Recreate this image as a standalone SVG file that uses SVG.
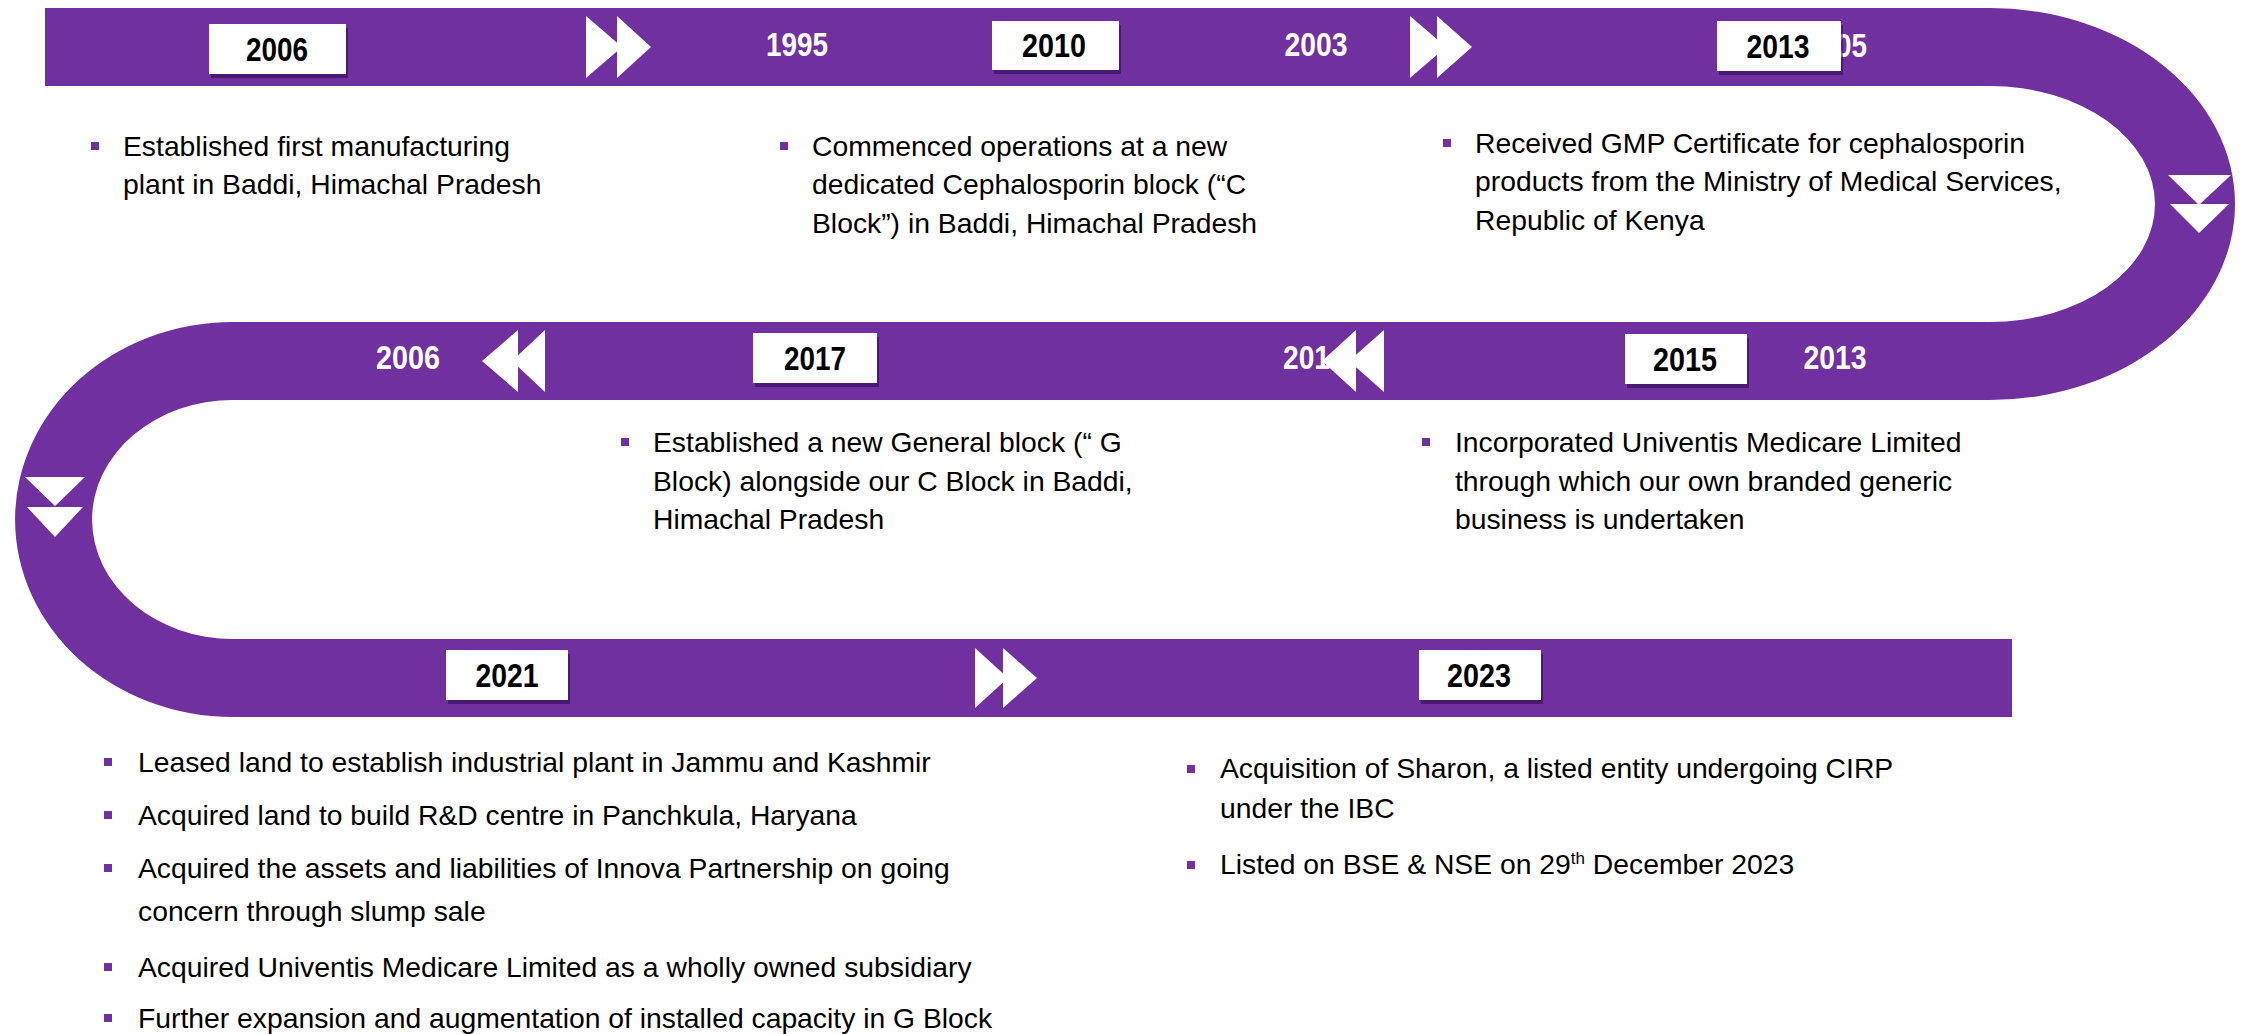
<svg xmlns="http://www.w3.org/2000/svg" width="2241" height="1034" viewBox="0 0 2241 1034">
<defs>
<style>
.band{fill:#7030A0}
.arr{fill:#ffffff}
.box{fill:#ffffff}
.shadow{fill:#2a0a4a;opacity:0.55}
.yr{font-family:"Liberation Sans Narrow","Liberation Sans",Arial,sans-serif;font-weight:bold;font-size:34px;text-anchor:middle}
.yb{fill:#000000}
.yw{fill:#ffffff}
.tx{font-family:"Liberation Sans",Arial,sans-serif;font-size:28.3px;fill:#000000}
.bul{fill:#7030A0}
</style>
</defs>
<rect width="2241" height="1034" fill="#ffffff"/>
<g id="connectors">
<path class="band" d="M45,8 L1990,8 A245,196 0 0 1 1990,400 L233,400 A141,119.5 0 0 0 233,639 L2012,639 L2012,717 L233,717 A218,197.5 0 0 1 233,322 L1990,322 A165,118 0 0 0 1990,86 L45,86 Z"/>
<g id="arrows">
<polygon class="arr" points="586,16 586,78 622,47"/>
<polygon class="arr" points="617,16 617,78 651,47"/>
<polygon class="arr" points="1410,16 1410,78 1446,47"/>
<polygon class="arr" points="1437,16 1437,78 1472,47"/>
<polygon class="arr" points="2168,175 2231,175 2199,205"/>
<polygon class="arr" points="2170,204 2229,204 2199,233"/>
<polygon class="arr" points="482,361 518,330 518,392"/>
<polygon class="arr" points="512,361 545,330 545,392"/>
<polygon class="arr" points="25,477 85,477 55,506"/>
<polygon class="arr" points="27,507 83,507 55,537"/>
<polygon class="arr" points="975,648 975,708 1008,678"/>
<polygon class="arr" points="1003,648 1003,708 1037,678"/>
</g>
</g>
<g id="y1995"><text class="yr yw" x="797" y="56" textLength="62" lengthAdjust="spacingAndGlyphs">1995</text></g>
<g id="y2003"><text class="yr yw" x="1316" y="56" textLength="63" lengthAdjust="spacingAndGlyphs">2003</text></g>
<g id="y2005"><text class="yr yw" x="1836" y="57" style="text-anchor:start" textLength="31" lengthAdjust="spacingAndGlyphs">05</text></g>
<g id="y2006b"><text class="yr yw" x="408" y="369" textLength="64" lengthAdjust="spacingAndGlyphs">2006</text></g>
<g id="y201"><text class="yr yw" x="1283" y="369" style="text-anchor:start" textLength="47" lengthAdjust="spacingAndGlyphs">201</text>
<polygon class="arr" points="1322,361 1356,330 1356,392"/>
<polygon class="arr" points="1349,361 1384,330 1384,392"/></g>
<g id="y2013b"><text class="yr yw" x="1835" y="369" textLength="63" lengthAdjust="spacingAndGlyphs">2013</text></g>
<g id="y2006">
<rect class="shadow" x="211" y="28" width="137" height="50"/>
<rect class="box" x="209" y="24" width="137" height="50"/>
<text class="yr yb" x="277" y="61" textLength="62" lengthAdjust="spacingAndGlyphs">2006</text>
</g>
<g id="y2010">
<rect class="shadow" x="994" y="25" width="127" height="49"/>
<rect class="box" x="992" y="21" width="127" height="49"/>
<text class="yr yb" x="1054" y="57" textLength="64" lengthAdjust="spacingAndGlyphs">2010</text>
</g>
<g id="y2013">
<rect class="shadow" x="1719" y="25" width="124" height="50"/>
<rect class="box" x="1717" y="21" width="124" height="50"/>
<text class="yr yb" x="1778" y="58" textLength="63" lengthAdjust="spacingAndGlyphs">2013</text>
</g>
<g id="y2017">
<rect class="shadow" x="755" y="337" width="124" height="50"/>
<rect class="box" x="753" y="333" width="124" height="50"/>
<text class="yr yb" x="815" y="370" textLength="62" lengthAdjust="spacingAndGlyphs">2017</text>
</g>
<g id="y2015">
<rect class="shadow" x="1627" y="338" width="122" height="50"/>
<rect class="box" x="1625" y="334" width="122" height="50"/>
<text class="yr yb" x="1685" y="371" textLength="64" lengthAdjust="spacingAndGlyphs">2015</text>
</g>
<g id="y2021">
<rect class="shadow" x="448" y="654" width="122" height="50"/>
<rect class="box" x="446" y="650" width="122" height="50"/>
<text class="yr yb" x="507" y="687" textLength="63" lengthAdjust="spacingAndGlyphs">2021</text>
</g>
<g id="y2023">
<rect class="shadow" x="1421" y="654" width="122" height="50"/>
<rect class="box" x="1419" y="650" width="122" height="50"/>
<text class="yr yb" x="1479" y="687" textLength="64" lengthAdjust="spacingAndGlyphs">2023</text>
</g>
<g id="note2006">
<rect class="bul" x="91" y="142" width="8" height="8"/>
<text class="tx" x="123" y="156">Established first manufacturing</text>
<text class="tx" x="123" y="194">plant in Baddi, Himachal Pradesh</text>
</g>
<g id="note2010">
<rect class="bul" x="780" y="142" width="8" height="8"/>
<text class="tx" x="812" y="156">Commenced operations at a new</text>
<text class="tx" x="812" y="194">dedicated Cephalosporin block (“C</text>
<text class="tx" x="812" y="233">Block”) in Baddi, Himachal Pradesh</text>
</g>
<g id="note2013">
<rect class="bul" x="1443" y="139" width="8" height="8"/>
<text class="tx" x="1475" y="153">Received GMP Certificate for cephalosporin</text>
<text class="tx" x="1475" y="191">products from the Ministry of Medical Services,</text>
<text class="tx" x="1475" y="230">Republic of Kenya</text>
</g>
<g id="note2017">
<rect class="bul" x="621" y="438" width="8" height="8"/>
<text class="tx" x="653" y="452">Established a new General block (“ G</text>
<text class="tx" x="653" y="491">Block) alongside our C Block in Baddi,</text>
<text class="tx" x="653" y="529">Himachal Pradesh</text>
</g>
<g id="note2015">
<rect class="bul" x="1422" y="438" width="8" height="8"/>
<text class="tx" x="1455" y="452">Incorporated Univentis Medicare Limited</text>
<text class="tx" x="1455" y="491">through which our own branded generic</text>
<text class="tx" x="1455" y="529">business is undertaken</text>
</g>
<g id="note2021">
<rect class="bul" x="104" y="758" width="8" height="8"/>
<text class="tx" x="138" y="772">Leased land to establish industrial plant in Jammu and Kashmir</text>
<rect class="bul" x="104" y="811" width="8" height="8"/>
<text class="tx" x="138" y="825">Acquired land to build R&amp;D centre in Panchkula, Haryana</text>
<rect class="bul" x="104" y="864" width="8" height="8"/>
<text class="tx" x="138" y="878">Acquired the assets and liabilities of Innova Partnership on going</text>
<text class="tx" x="138" y="921">concern through slump sale</text>
<rect class="bul" x="104" y="963" width="8" height="8"/>
<text class="tx" x="138" y="977">Acquired Univentis Medicare Limited as a wholly owned subsidiary</text>
<rect class="bul" x="104" y="1014" width="8" height="8"/>
<text class="tx" x="138" y="1028">Further expansion and augmentation of installed capacity in G Block</text>
</g>
<g id="note2023">
<rect class="bul" x="1187" y="765" width="8" height="8"/>
<text class="tx" x="1220" y="778">Acquisition of Sharon, a listed entity undergoing CIRP</text>
<text class="tx" x="1220" y="818">under the IBC</text>
<rect class="bul" x="1187" y="861" width="8" height="8"/>
<text class="tx" x="1220" y="874">Listed on BSE &amp; NSE on 29<tspan font-size="17" dy="-10">th</tspan><tspan dy="10"> December 2023</tspan></text>
</g>
</svg>
